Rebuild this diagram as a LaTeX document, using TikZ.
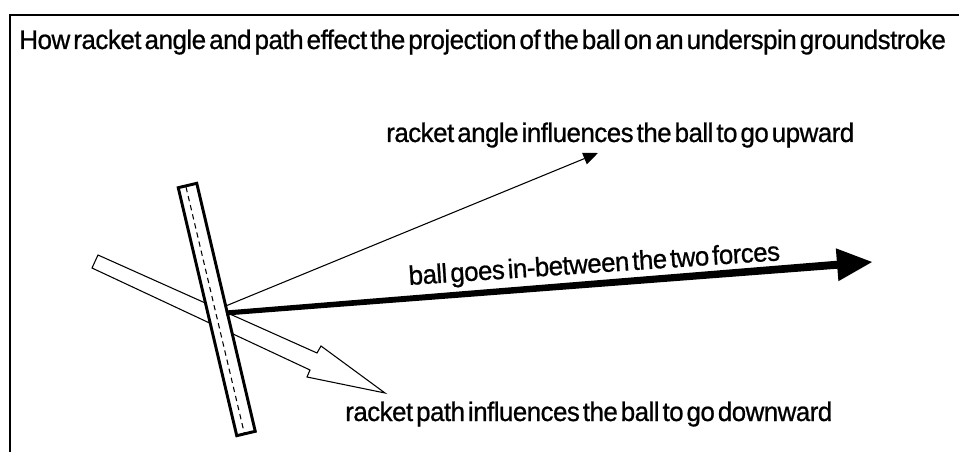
\documentclass[tikz,border=0pt]{standalone}
\usepackage{fontspec}
\setmainfont{Liberation Sans}
\newfontfamily\lblfont[FakeBold=0.8,WordSpace=0.45,LetterSpace=-2]{Liberation Sans}
\usetikzlibrary{arrows.meta}
\newcommand\fitlabel[2]{\resizebox{#1}{14.6pt}{\lblfont #2}}
\tikzset{
  lbl/.style={inner sep=0pt, anchor=base west},
  frameline/.style={line width=1.6pt},
  racketbody/.style={line width=2.2pt, fill=white, line join=miter},
  racketstring/.style={line width=0.8pt, dash pattern=on 4pt off 3pt},
  pathshape/.style={line width=0.8pt, fill=white, line join=miter},
  anglearrow/.style={line width=0.8pt, -{Triangle[length=11pt,width=9pt]}},
  ballshape/.style={fill=black, draw=none}
}
\begin{document}
\begin{tikzpicture}[x=0.75pt,y=-0.75pt]
\useasboundingbox (0,0) rectangle (959,452);
% frame
\draw[frameline] (959,15) -- (10,15) -- (10,452);
% title
\node[lbl] (title) at (19,49) {\fitlabel{695pt}{How racket angle and path effect the projection of the ball on an underspin groundstroke}};
% racket path (hollow arrow)
\draw[pathshape] (98,255) -- (317,353) -- (321,346) -- (385,393) -- (307,377) -- (310,370) -- (92,268) -- cycle;
% racket
\coordinate (rTL) at (178.25,187.7);
\coordinate (rTR) at (196.75,183.3);
\coordinate (rBR) at (255.25,431.3);
\coordinate (rBL) at (236.75,435.7);
\draw[racketbody] (rTL) -- (rTR) -- (rBR) -- (rBL) -- cycle;
\draw[racketstring] (186,187) -- (244.5,434);
% racket angle arrow
\coordinate (angS) at (225.7,306);
\coordinate (angE) at (598,153);
\draw[anglearrow] (angS) -- (angE);
% ball direction (thick tapered arrow)
\fill[ballshape] (225.8,310.5) -- (836.8,260.75) -- (835.8,248.3) -- (872,262) -- (838.4,281.2) -- (837.4,268.7) -- (226.2,315.5) -- cycle;
% labels
\node[lbl] (up) at (386,142) {\fitlabel{351pt}{racket angle influences the ball to go upward}};
\node[lbl, rotate=3.8] (mid) at (409,285) {\fitlabel{279pt}{ball goes in-between the two forces}};
\node[lbl] (down) at (345,421) {\fitlabel{365.25pt}{racket path influences the ball to go downward}};
\end{tikzpicture}
\end{document}
